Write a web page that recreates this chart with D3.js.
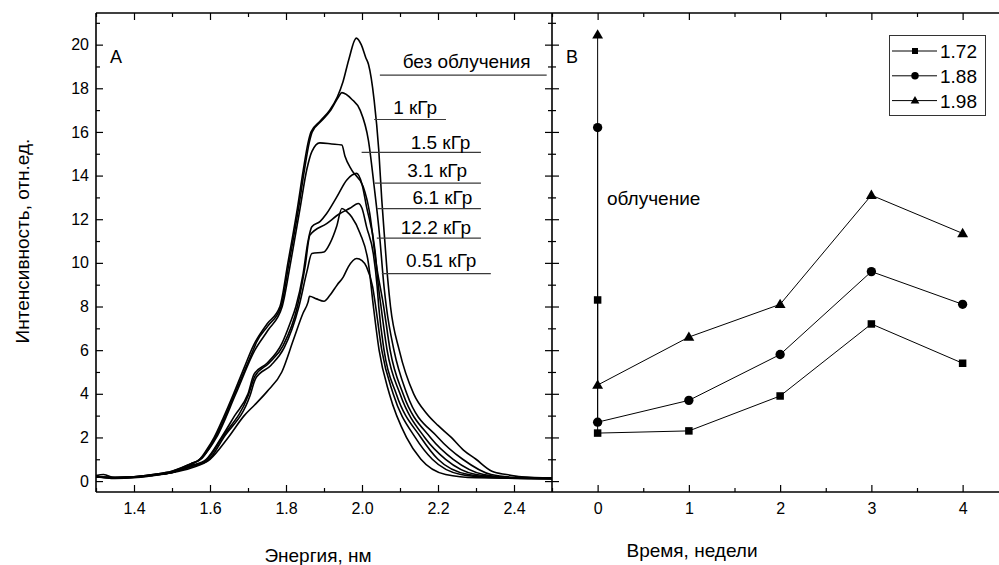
<!DOCTYPE html>
<html>
<head>
<meta charset="utf-8">
<script src="https://cdn.jsdelivr.net/npm/d3@7/dist/d3.min.js"></script>
<style>
  body { margin: 0; background: #fff; }
  svg { display: block; }
  text { font-family: "Liberation Sans", Arial, sans-serif; fill: #000; }
</style>
</head>
<body>
<svg id="chart" width="999" height="565"></svg>
<script>
// ---------- Panel A: photoluminescence spectra, [energy, intensity] ----------
const specNone = [[1.30,0.25],[1.32,0.3],[1.35,0.15],[1.40,0.2],[1.45,0.3],[1.50,0.45],[1.55,0.8],[1.573,1.0],[1.59,1.4],[1.611,2.0],[1.635,2.9],[1.662,4.0],[1.69,5.2],[1.714,6.2],[1.72,6.4],[1.75,7.2],[1.784,8.0],[1.805,10.0],[1.83,12.5],[1.845,14.2],[1.858,15.5],[1.866,16.0],[1.89,16.5],[1.915,17.0],[1.935,17.6],[1.95,18.3],[1.965,19.3],[1.985,20.3],[1.998,20.0],[2.01,19.4],[2.017,19.1],[2.032,17.45],[2.044,15.2],[2.052,12.9],[2.06,11.0],[2.068,9.2],[2.075,8.0],[2.098,6.0],[2.136,4.0],[2.17,3.1],[2.20,2.55],[2.235,2.0],[2.267,1.42],[2.30,1.0],[2.342,0.45],[2.38,0.3],[2.42,0.2],[2.50,0.15]];
const spec1kGy = [[1.30,0.2],[1.35,0.18],[1.40,0.2],[1.45,0.3],[1.50,0.45],[1.55,0.8],[1.576,1.0],[1.614,2.0],[1.665,4.0],[1.716,6.1],[1.722,6.35],[1.752,7.1],[1.787,8.0],[1.808,10.0],[1.833,12.5],[1.848,14.2],[1.861,15.5],[1.869,16.0],[1.893,16.5],[1.918,17.0],[1.938,17.6],[1.947,17.8],[1.973,17.5],[1.995,17.0],[2.017,15.6],[2.032,13.5],[2.046,11.3],[2.058,8.9],[2.064,8.0],[2.084,6.0],[2.118,4.0],[2.20,2.0],[2.265,1.0],[2.34,0.3],[2.42,0.15],[2.50,0.12]];
const spec15kGy = [[1.30,0.2],[1.35,0.15],[1.40,0.2],[1.45,0.28],[1.50,0.42],[1.55,0.75],[1.58,1.1],[1.617,2.0],[1.668,4.0],[1.718,6.0],[1.752,6.9],[1.79,8.0],[1.812,10.0],[1.837,12.5],[1.855,14.3],[1.868,15.1],[1.889,15.5],[1.92,15.45],[1.947,15.4],[1.955,14.9],[1.973,14.25],[2.003,13.5],[2.02,12.3],[2.037,10.0],[2.057,8.0],[2.074,6.0],[2.108,4.0],[2.18,2.0],[2.24,1.0],[2.32,0.3],[2.40,0.15],[2.50,0.12]];
const spec31kGy = [[1.30,0.2],[1.35,0.15],[1.40,0.18],[1.45,0.28],[1.50,0.4],[1.55,0.7],[1.59,1.0],[1.63,2.0],[1.665,3.0],[1.70,4.0],[1.716,4.9],[1.75,5.4],[1.789,6.3],[1.81,7.2],[1.826,8.0],[1.845,9.5],[1.858,11.0],[1.868,11.65],[1.89,11.9],[1.907,12.26],[1.933,13.0],[1.96,13.8],[1.986,14.1],[2.0,13.6],[2.012,12.57],[2.034,10.6],[2.044,8.8],[2.05,8.0],[2.066,6.0],[2.10,4.0],[2.165,2.0],[2.22,1.0],[2.30,0.3],[2.40,0.15],[2.50,0.12]];
const spec61kGy = [[1.30,0.2],[1.35,0.15],[1.40,0.18],[1.45,0.27],[1.50,0.4],[1.55,0.68],[1.59,0.95],[1.632,2.0],[1.70,3.9],[1.718,4.8],[1.755,5.4],[1.792,6.2],[1.83,8.0],[1.85,9.8],[1.863,11.27],[1.907,11.8],[1.942,12.26],[1.968,12.5],[1.99,12.72],[2.0,12.5],[2.012,11.65],[2.03,10.4],[2.04,8.9],[2.044,8.0],[2.058,6.0],[2.09,4.0],[2.155,2.0],[2.20,1.0],[2.28,0.3],[2.38,0.15],[2.50,0.12]];
const spec122kGy = [[1.30,0.2],[1.35,0.15],[1.40,0.18],[1.45,0.27],[1.50,0.4],[1.55,0.66],[1.595,0.95],[1.636,2.0],[1.705,3.9],[1.72,4.7],[1.76,5.3],[1.795,6.1],[1.834,8.0],[1.855,9.6],[1.868,10.43],[1.90,10.5],[1.916,10.9],[1.933,11.65],[1.947,12.49],[1.96,12.35],[1.973,12.1],[1.995,11.35],[2.017,9.97],[2.03,8.0],[2.045,6.0],[2.072,4.0],[2.117,2.0],[2.155,1.0],[2.22,0.3],[2.30,0.15],[2.50,0.12]];
const spec051kGy = [[1.30,0.2],[1.35,0.12],[1.40,0.15],[1.45,0.25],[1.50,0.38],[1.55,0.6],[1.60,1.0],[1.648,2.0],[1.69,3.0],[1.718,3.5],[1.75,4.1],[1.789,5.0],[1.82,6.5],[1.845,7.7],[1.858,8.2],[1.862,8.47],[1.88,8.35],[1.90,8.24],[1.915,8.5],[1.935,9.0],[1.951,9.36],[1.964,9.82],[1.986,10.2],[2.0,10.1],[2.012,9.82],[2.028,8.9],[2.036,8.0],[2.052,6.0],[2.082,4.0],[2.14,2.0],[2.185,1.0],[2.26,0.3],[2.35,0.15],[2.50,0.1]];
const spectra = [specNone, spec1kGy, spec15kGy, spec31kGy, spec61kGy, spec122kGy, spec051kGy];

// dose labels: text, text start (E), baseline (I), underline from/to (E) at level (I)
const doseLabels = ["без облучения", "1 кГр", "1.5 кГр", "3.1 кГр", "6.1 кГр", "12.2 кГр", "0.51 кГр"];
const doseTextE  = [2.107, 2.082, 2.128, 2.119, 2.133, 2.102, 2.116];
const doseTextI  = [18.91, 16.84, 15.24, 13.94, 12.69, 11.30, 9.82];
const doseLineE1 = [2.047, 2.032, 1.999, 2.034, 2.040, 2.039, 2.052];
const doseLineE2 = [2.486, 2.221, 2.313, 2.313, 2.313, 2.313, 2.339];
const doseLineI  = [18.6, 16.57, 15.06, 13.65, 12.49, 11.13, 9.51];

const energyTicks = [1.4, 1.6, 1.8, 2.0, 2.2, 2.4];
const energyMinor = [1.3, 1.5, 1.7, 1.9, 2.1, 2.3, 2.5];
const intensityTicks = [0, 2, 4, 6, 8, 10, 12, 14, 16, 18, 20];
const intensityMinor = [1, 3, 5, 7, 9, 11, 13, 15, 17, 19, 21];

// ---------- Panel B: intensity at three energies vs. time ----------
const weeks = [0, 1, 2, 3, 4];
const seriesNames = ["1.72", "1.88", "1.98"];
const before172 = 8.3, before188 = 16.2, before198 = 20.45;
const vals172 = [2.2, 2.3, 3.9, 7.2, 5.4];
const vals188 = [2.7, 3.7, 5.8, 9.6, 8.1];
const vals198 = [4.4, 6.6, 8.1, 13.1, 11.35];
const weekMinor = [0.5, 1.5, 2.5, 3.5, 4.5];

// ---------- layout ----------
const svg = d3.select("#chart");
const plotTop = 13, plotBottom = 492, leftA = 96, split = 552, rightEnd = 999;

const xA = d3.scaleLinear().domain([1.3, 2.5]).range([leftA, split]);
const xB = d3.scaleLinear().domain([-0.5, 5]).range([split, split + 5.5 * 91.25]);
const y  = d3.scaleLinear().domain([-0.5, 21.45]).range([plotBottom, plotTop]);

svg.append("rect").attr("width", 999).attr("height", 565).attr("fill", "#fff");

const axG = svg.append("g").attr("class", "axes");

function tickAxis(axisFn, scale, values, size, transform, labels, pad) {
  const ax = axisFn(scale).tickValues(values).tickSizeInner(size).tickSizeOuter(0)
    .tickPadding(pad || 0);
  if (labels) ax.tickFormat(labels); else ax.tickFormat("");
  const g = axG.append("g").attr("transform", transform).call(ax);
  g.select(".domain").remove();
  g.selectAll("line").attr("stroke", "#000").attr("stroke-width", 1.2);
  g.selectAll("text").style("font-size", "16px").attr("fill", "#000")
    .style("font-family", '"Liberation Sans", Arial, sans-serif');
  return g;
}
const fmt1 = d3.format(".1f");
// Panel A bottom / top
tickAxis(d3.axisBottom, xA, energyTicks, -7, `translate(0,${plotBottom})`, fmt1, 11);
tickAxis(d3.axisBottom, xA, energyMinor, -4, `translate(0,${plotBottom})`);
tickAxis(d3.axisTop, xA, energyTicks, -7, `translate(0,${plotTop})`);
tickAxis(d3.axisTop, xA, energyMinor, -4, `translate(0,${plotTop})`);
// Panel A left / right
tickAxis(d3.axisLeft, y, intensityTicks, -7, `translate(${leftA},0)`, d3.format("d"), 7);
tickAxis(d3.axisLeft, y, intensityMinor, -4, `translate(${leftA},0)`);
tickAxis(d3.axisRight, y, intensityTicks, -7, `translate(${split},0)`);
tickAxis(d3.axisRight, y, intensityMinor, -4, `translate(${split},0)`);
// Panel B left (same line as split), bottom / top
tickAxis(d3.axisLeft, y, intensityTicks, -7, `translate(${split},0)`);
tickAxis(d3.axisLeft, y, intensityMinor, -4, `translate(${split},0)`);
tickAxis(d3.axisBottom, xB, weeks, -7, `translate(0,${plotBottom})`, d3.format("d"), 11);
tickAxis(d3.axisBottom, xB, weekMinor, -4, `translate(0,${plotBottom})`);
tickAxis(d3.axisTop, xB, weeks, -7, `translate(0,${plotTop})`);
tickAxis(d3.axisTop, xB, weekMinor, -4, `translate(0,${plotTop})`);

// frame lines
const frame = axG.append("g").attr("stroke", "#000").attr("stroke-width", 1.6).attr("fill", "none");
frame.append("line").attr("x1", leftA).attr("x2", rightEnd).attr("y1", plotTop).attr("y2", plotTop);
frame.append("line").attr("x1", leftA).attr("x2", rightEnd).attr("y1", plotBottom).attr("y2", plotBottom);
frame.append("line").attr("x1", leftA).attr("x2", leftA).attr("y1", plotTop).attr("y2", plotBottom);
frame.append("line").attr("x1", split).attr("x2", split).attr("y1", plotTop).attr("y2", plotBottom);

// ---------- Panel A curves ----------
const line = d3.line().x(d => xA(d[0])).y(d => y(d[1])).curve(d3.curveMonotoneX);
svg.append("g").selectAll("path").data(spectra).join("path")
  .attr("d", line).attr("fill", "none").attr("stroke", "#000")
  .attr("stroke-width", 1.6).attr("stroke-linejoin", "round");

// dose labels and leader lines
const lab = svg.append("g");
doseLabels.forEach((t, i) => {
  lab.append("line")
    .attr("x1", xA(doseLineE1[i])).attr("x2", xA(doseLineE2[i]))
    .attr("y1", y(doseLineI[i])).attr("y2", y(doseLineI[i]))
    .attr("stroke", "#3a3a3a").attr("stroke-width", 1.2);
  lab.append("text").attr("x", xA(doseTextE[i])).attr("y", y(doseTextI[i]))
    .style("font-size", "19px").text(t);
});
svg.append("text").attr("x", 110).attr("y", 63).style("font-size", "18px").text("A");

// ---------- Panel B series ----------
const bSeries = [
  { name: seriesNames[0], before: before172, vals: vals172, shape: "square" },
  { name: seriesNames[1], before: before188, vals: vals188, shape: "circle" },
  { name: seriesNames[2], before: before198, vals: vals198, shape: "triangle" }
];
const lineB = d3.line().x(d => xB(d[0])).y(d => y(d[1]));
function marker(g, shape, cx, cy, s) {
  if (shape === "square") {
    g.append("rect").attr("x", cx - s / 2).attr("y", cy - s / 2).attr("width", s).attr("height", s).attr("fill", "#000");
  } else if (shape === "circle") {
    g.append("circle").attr("cx", cx).attr("cy", cy).attr("r", s * 0.62).attr("fill", "#000");
  } else {
    const h = s * 1.25, w = s * 1.45;
    g.append("path").attr("d", `M${cx},${cy - h * 0.6}L${cx + w / 2},${cy + h * 0.4}L${cx - w / 2},${cy + h * 0.4}Z`).attr("fill", "#000");
  }
}
const gB = svg.append("g");
bSeries.forEach(s => {
  const pts = [[0, s.before]].concat(weeks.map((w, i) => [w, s.vals[i]]));
  gB.append("path").attr("d", lineB(pts)).attr("fill", "none").attr("stroke", "#000").attr("stroke-width", 1);
});
bSeries.forEach(s => {
  const pts = [[0, s.before]].concat(weeks.map((w, i) => [w, s.vals[i]]));
  pts.forEach(p => marker(gB, s.shape, xB(p[0]), y(p[1]), 7.5));
});
svg.append("text").attr("x", xB(0.103)).attr("y", y(12.64)).style("font-size", "19px").text("облучение");
svg.append("text").attr("x", 566).attr("y", 63).style("font-size", "18px").text("B");

// legend
const leg = svg.append("g");
leg.append("rect").attr("x", 889.5).attr("y", 35.5).attr("width", 96).attr("height", 80)
  .attr("fill", "#fff").attr("stroke", "#333").attr("stroke-width", 1);
bSeries.forEach((s, i) => {
  const ly = 51 + i * 24.8;
  leg.append("line").attr("x1", 892).attr("x2", 937).attr("y1", ly).attr("y2", ly).attr("stroke", "#000").attr("stroke-width", 1);
  marker(leg, s.shape, 915, ly, 6);
  leg.append("text").attr("x", 940).attr("y", ly + 7).style("font-size", "19px").text(s.name);
});

// axis titles
svg.append("text").attr("x", 318).attr("y", 562).attr("text-anchor", "middle").style("font-size", "19px").text("Энергия, нм");
svg.append("text").attr("x", 692).attr("y", 557).attr("text-anchor", "middle").style("font-size", "19px").text("Время, недели");
svg.append("text").attr("transform", "translate(29,241) rotate(-90)").attr("text-anchor", "middle")
  .style("font-size", "19px").text("Интенсивность, отн.ед.");
</script>
</body>
</html>
